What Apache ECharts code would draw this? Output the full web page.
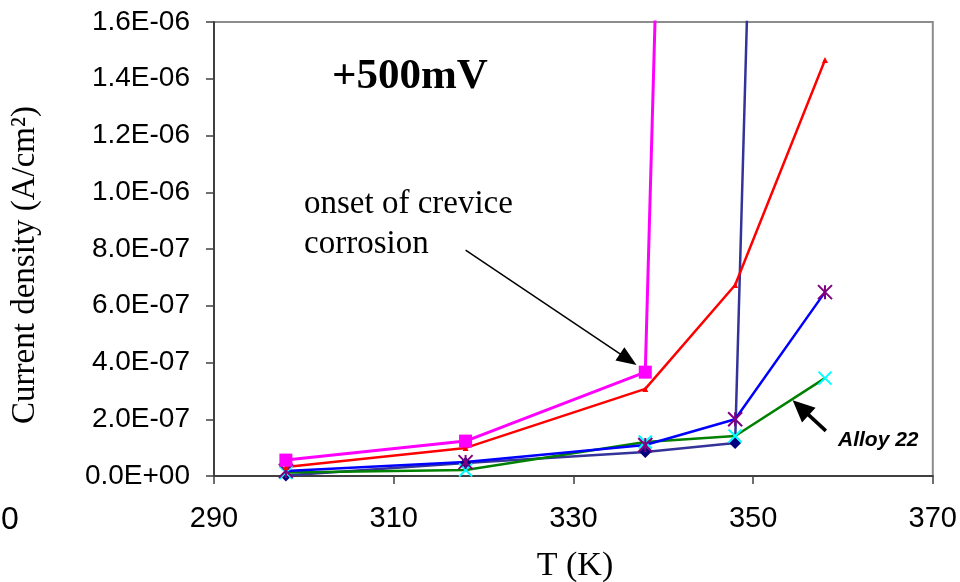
<!DOCTYPE html>
<html style="height: 100%">
<head>
    <meta charset="UTF-8">
    <title>Current density vs T, +500mV</title>
    <script src="https://cdn.jsdelivr.net/npm/echarts/dist/echarts.min.js"></script>
</head>
<body style="height: 100%; margin: 0; background: #fff">
    <div id="main" style="width: 960px; height: 582px;"></div>
    <script>
        // temperatures (K)
        var temps = [298, 318, 338, 348, 358];
        // current density (A/cm2) for each curve
        var magentaVals = [5.6e-8, 1.23e-7, 3.66e-7, 1.18e-5, null];
        var redVals = [3.2e-8, 9.9e-8, 3.07e-7, 6.73e-7, 1.466e-6];
        var blueVals = [1.8e-8, 4.9e-8, 1.09e-7, 2.0e-7, 6.48e-7];
        var greenVals = [1.2e-8, 2.1e-8, 1.2e-7, 1.41e-7, 3.45e-7];
        var navyVals = [2e-9, 4.6e-8, 8.5e-8, 1.16e-7, 1.15e-5];
        // arrow annotations [T, value]
        var onsetArrow = [[318.0, 7.96e-7], [336.1, 4.11e-7]];
        var alloyArrow = [[358.1, 1.59e-7], [355.3, 2.41e-7]];

        function pairs(vals) {
            return temps.map(function (t, i) { return [t, vals[i]]; });
        }

        function sci(v) {
            if (v === 0) return '0.0E+00';
            var p = v.toExponential(1).split('e');
            var e = parseInt(p[1], 10);
            var a = Math.abs(e);
            return p[0] + 'E' + (e < 0 ? '-' : '+') + (a < 10 ? '0' : '') + a;
        }

        var asterisk = 'path://M0,0 L10,10 M10,0 L0,10 M5,0 L5,10';
        var cross = 'path://M0,0 L10,10 M10,0 L0,10';

        function arrowLine(pts, width, size) {
            return {
                silent: true,
                symbol: ['none', 'triangle'],
                symbolSize: size,
                label: { show: false },
                lineStyle: { color: '#000', width: width, type: 'solid' },
                data: [[{ coord: pts[0] }, { coord: pts[1] }]]
            };
        }

        var myChart = echarts.init(document.getElementById('main'));

        var option = {
            animation: false,
            grid: {
                left: 214, right: 27, top: 22, bottom: 106,
                show: true, borderColor: '#8c8c8c', borderWidth: 2
            },
            xAxis: {
                type: 'value',
                min: 290, max: 370, interval: 20,
                axisLine: { show: true, lineStyle: { color: '#404040', width: 2 } },
                axisTick: { show: true, length: 8, lineStyle: { color: '#404040', width: 1.5 } },
                splitLine: { show: false },
                axisLabel: {
                    fontFamily: 'Liberation Sans', fontSize: 29, color: '#000', margin: 28
                }
            },
            yAxis: {
                type: 'value',
                min: 0, max: 1.6e-6, interval: 2e-7,
                axisLine: { show: true, lineStyle: { color: '#404040', width: 2 } },
                axisTick: { show: true, length: 8, lineStyle: { color: '#404040', width: 1.5 } },
                splitLine: { show: false },
                axisLabel: {
                    fontFamily: 'Liberation Sans', fontSize: 28, color: '#000', margin: 24,
                    formatter: sci
                }
            },
            series: [
                {
                    name: 'navy', type: 'line', data: pairs(navyVals),
                    symbol: 'diamond', symbolSize: 12, showAllSymbol: true,
                    itemStyle: { color: '#000080' },
                    lineStyle: { color: '#333399', width: 2.5 }
                },
                {
                    name: 'Alloy 22', type: 'line', data: pairs(greenVals),
                    symbol: cross, symbolSize: 13, showAllSymbol: true,
                    itemStyle: { color: 'rgba(0,0,0,0)', borderColor: '#00ffff', borderWidth: 2 },
                    lineStyle: { color: '#008000', width: 2.5 },
                    markLine: arrowLine(alloyArrow, 3.5, [20, 22])
                },
                {
                    name: 'blue', type: 'line', data: pairs(blueVals),
                    symbol: asterisk, symbolSize: 14, showAllSymbol: true,
                    itemStyle: { color: 'rgba(0,0,0,0)', borderColor: '#800080', borderWidth: 2 },
                    lineStyle: { color: '#0000ff', width: 2.5 }
                },
                {
                    name: 'red', type: 'line', data: pairs(redVals),
                    symbol: 'triangle', symbolSize: 6, showAllSymbol: true,
                    itemStyle: { color: '#ff0000' },
                    lineStyle: { color: '#ff0000', width: 2.5 }
                },
                {
                    name: 'magenta', type: 'line', data: pairs(magentaVals),
                    symbol: 'rect', symbolSize: 13, showAllSymbol: true,
                    itemStyle: { color: '#ff00ff' },
                    lineStyle: { color: '#ff00ff', width: 3 },
                    markLine: arrowLine(onsetArrow, 1.5, [16, 20])
                }
            ],
            graphic: [
                {
                    type: 'text', x: 332, y: 77,
                    style: { text: '+500mV', font: 'bold 43px "Liberation Serif"', fill: '#000',
                             align: 'left', verticalAlign: 'middle' }
                },
                {
                    type: 'text', x: 304, y: 204,
                    style: { text: 'onset of crevice', font: '33px "Liberation Serif"', fill: '#000',
                             align: 'left', verticalAlign: 'middle' }
                },
                {
                    type: 'text', x: 304, y: 244,
                    style: { text: 'corrosion', font: '33px "Liberation Serif"', fill: '#000',
                             align: 'left', verticalAlign: 'middle' }
                },
                {
                    type: 'text', x: 838, y: 440,
                    style: { text: 'Alloy 22', font: 'italic bold 21px "Liberation Sans"', fill: '#000',
                             align: 'left', verticalAlign: 'middle' }
                },
                {
                    type: 'text', x: 575, y: 566,
                    style: { text: 'T (K)', font: '34px "Liberation Serif"', fill: '#000',
                             align: 'center', verticalAlign: 'middle' }
                },
                {
                    type: 'text', x: 25, y: 265, rotation: Math.PI / 2,
                    style: { text: 'Current density (A/cm²)', font: '33px "Liberation Serif"', fill: '#000',
                             align: 'center', verticalAlign: 'middle' }
                },
                {
                    type: 'text', x: 10, y: 520,
                    style: { text: '0', font: '32px "Liberation Sans"', fill: '#000',
                             align: 'center', verticalAlign: 'middle' }
                }
            ]
        };

        myChart.setOption(option);
    </script>
</body>
</html>
